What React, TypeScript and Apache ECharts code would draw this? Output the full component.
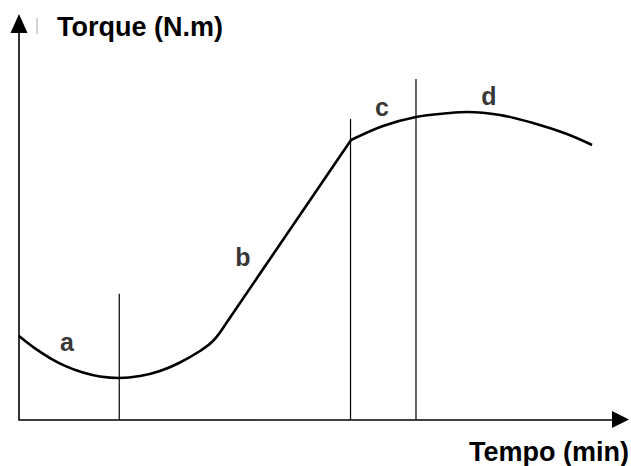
import React, { useEffect, useRef } from "react";
import * as echarts from "echarts";

// Torque curve (time units, torque units)
const curveA: number[][] = [
  [0, 8.43], [1.6, 7.18], [3.09, 6.21], [4.59, 5.42], [6.38, 4.74], [8.08, 4.34],
  [9.98, 4.19], [12.07, 4.39], [14.06, 4.9], [16.06, 5.76], [18.05, 6.92],
  [19.35, 7.93], [20.55, 9.55],
];
const curveB: number[][] = [
  [20.55, 9.55], [33.12, 28.23],
];
const curveC: number[][] = [
  [33.12, 28.23], [36.31, 29.65], [39.6, 30.56], [43.0, 30.96], [44.69, 31.06],
  [47.98, 30.76], [51.27, 29.95], [54.66, 28.84], [57.16, 27.73],
];
// Vertical phase separators: [x, top]
const separators: number[][] = [
  [10, 12.7], [33.07, 30.35], [39.6, 34.39],
];
// Phase labels: [x, y, text]
const phaseLabels: [number, number, string][] = [
  [4.79, 7.83, "a"], [22.34, 16.41, "b"], [36.21, 31.56, "c"], [46.88, 32.68, "d"],
];
const yTitle = "Torque (N.m)";
const xTitle = "Tempo (min)";

const FONT = "'Liberation Sans', Arial, Helvetica, sans-serif";

export default function App() {
  const ref = useRef<HTMLDivElement>(null);
  useEffect(() => {
    if (!ref.current) return;
    const chart = echarts.init(ref.current, undefined, { renderer: "svg" });
    const curveStyle = { color: "#000", width: 2.6 };
    const series: any[] = [
      { type: "line", data: curveA, smooth: 0.4, symbol: "none", lineStyle: curveStyle, z: 3 },
      { type: "line", data: curveB, symbol: "none", lineStyle: curveStyle, z: 3 },
      { type: "line", data: curveC, smooth: 0.35, symbol: "none", lineStyle: curveStyle, z: 3 },
      ...separators.map((s) => ({
        type: "line",
        data: [[s[0], 0], [s[0], s[1]]],
        symbol: "none",
        lineStyle: { color: "#000", width: 1.2 },
        z: 2,
      })),
      {
        type: "scatter",
        data: phaseLabels.map((p) => ({ value: [p[0], p[1]], name: p[2] })),
        symbolSize: 0,
        label: {
          show: true,
          position: "inside",
          formatter: (p: any) => p.name,
          color: "#000",
          fontSize: 25,
          fontWeight: "bold",
          fontFamily: FONT,
        },
        z: 4,
      },
    ];
    chart.setOption({
      animation: false,
      backgroundColor: "#fff",
      grid: { left: 19, right: 10.5, top: 23.5, bottom: 46.5 },
      xAxis: {
        type: "value",
        min: 0,
        max: 60,
        axisLine: {
          show: true,
          symbol: ["none", "triangle"],
          symbolSize: [17, 17],
          lineStyle: { color: "#000", width: 1.6 },
        },
        axisTick: { show: false },
        axisLabel: { show: false },
        splitLine: { show: false },
      },
      yAxis: {
        type: "value",
        min: 0,
        max: 40,
        axisLine: {
          show: true,
          symbol: ["none", "triangle"],
          symbolSize: [17, 19],
          lineStyle: { color: "#000", width: 1.6 },
        },
        axisTick: { show: false },
        axisLabel: { show: false },
        splitLine: { show: false },
      },
      graphic: [
        {
          type: "text",
          left: 57,
          top: 13,
          style: { text: yTitle, fill: "#000", font: `bold 27px ${FONT}` },
        },
        {
          type: "text",
          right: 2,
          top: 438,
          style: { text: xTitle, fill: "#000", font: `bold 27px ${FONT}` },
        },
        {
          type: "line",
          shape: { x1: 37, y1: 18, x2: 37, y2: 34 },
          style: { stroke: "#aaa", lineWidth: 1 },
        },
      ],
      series,
    });
    return () => chart.dispose();
  }, []);
  return (
    <div
      ref={ref}
      style={{ position: "absolute", left: 0, top: 0, width: 631, height: 466 }}
    />
  );
}
